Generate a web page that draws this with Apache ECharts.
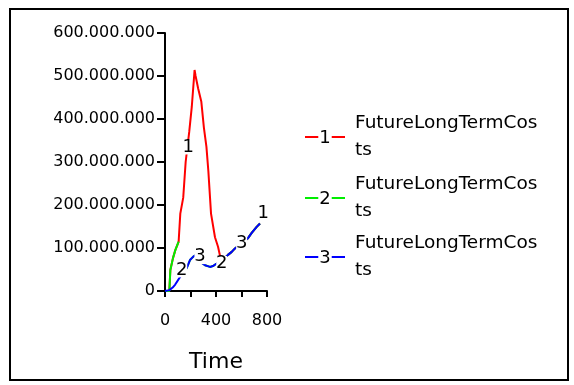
<!DOCTYPE html>
<html>
<head>
<meta charset="utf-8">
<script src="https://cdn.jsdelivr.net/npm/echarts@6/dist/echarts.min.js"></script>
<style>html,body{margin:0;padding:0;background:#fff}#c{width:574px;height:385px}</style>
</head>
<body>
<div id="c"></div>
<script>
// Time values and series values (in millions)
const redTime  = [0, 34, 42, 63, 81, 107, 120, 143, 162, 190, 210, 232, 240, 260, 285, 305, 325, 340, 361, 392, 416, 440, 494, 523, 549, 600, 651, 680, 719, 745];
const redVal   = [0, 0, 49, 77, 95, 115, 180, 217, 300, 370, 428, 514, 500, 471, 440, 380, 335, 279, 180, 125, 103, 70, 84, 91, 99, 111, 123, 135, 149, 157];
const greenTime = [0, 34, 42, 63, 81, 107, 118, 140, 170, 196, 222, 250, 274, 314, 353, 376, 405, 445, 494, 523, 549, 600, 651, 680, 719, 745];
const greenVal  = [0, 0, 49, 77, 95, 115, null, 40, 53, 72, 80, 85, 68, 60, 56, 58, 64, 70, 84, 91, 99, 111, 123, 135, 149, 157];
const blueTime = [0, 34, 60, 80, 130, 170, 196, 222, 250, 274, 314, 353, 376, 405, 445, 494, 523, 549, 600, 651, 680, 719, 745];
const blueVal  = [0, 2, 8, 15, 38, 53, 72, 80, 85, 68, 60, 56, 58, 64, 70, 84, 91, 99, 111, 123, 135, 149, 157];
// Run labels placed on the lines
const labelTime = [183, 771, 131, 445, 274, 601];
const labelVal  = [335, 180, 49, 64, 80, 111];
const labelText = ['1', '1', '2', '2', '3', '3'];
const seriesNames = ['FutureLongTermCosts', 'FutureLongTermCosts', 'FutureLongTermCosts'];
const seriesNums = ['1', '2', '3'];
const colors = ['#ff0000', '#00ee00', '#0000ff'];
const yTicks = [0, 100, 200, 300, 400, 500, 600];
const xTicks = [0, 400, 800];

const M = 1e6;
function pairs(t, v) { return t.map((x, i) => [x, v[i] == null ? null : v[i] * M]); }

const chart = echarts.init(document.getElementById('c'));
const font = 'DejaVu Sans';

const legendGraphics = [];
const legendY = [137, 198, 257];
seriesNums.forEach((n, i) => {
  legendGraphics.push({
    type: 'line', shape: {x1: 305, y1: legendY[i], x2: 345, y2: legendY[i]},
    style: {stroke: colors[i], lineWidth: 2}
  });
  legendGraphics.push({
    type: 'text', x: 325, y: legendY[i] + 1,
    style: {text: n, font: '18px ' + font, fill: '#000', align: 'center', verticalAlign: 'middle',
            backgroundColor: '#fff', padding: [0, 1]}
  });
  const nm = seriesNames[i];
  legendGraphics.push({
    type: 'text', x: 355, y: legendY[i],
    style: {text: nm.slice(0, 17) + '\n' + nm.slice(17), font: '18.5px ' + font, fill: '#000',
            align: 'left', verticalAlign: 'middle', lineHeight: 27}
  });
});

chart.setOption({
  animation: false,
  backgroundColor: '#fff',
  grid: {left: 165, top: 33, width: 102, height: 258, containLabel: false},
  xAxis: {
    type: 'value', min: 0, max: 800, interval: 200,
    name: 'Time', nameLocation: 'middle', nameGap: 60,
    nameTextStyle: {fontFamily: font, fontSize: 22, color: '#000'},
    axisLine: {onZero: false, lineStyle: {color: '#000', width: 2}},
    axisTick: {show: true, length: 6, lineStyle: {color: '#000', width: 2}},
    axisLabel: {margin: 22, fontFamily: font, fontSize: 16, color: '#000',
      formatter: v => xTicks.indexOf(v) >= 0 ? String(v) : ''},
    splitLine: {show: false}
  },
  yAxis: {
    type: 'value', min: 0, max: 600 * M, interval: 100 * M,
    axisLine: {show: true, lineStyle: {color: '#000', width: 2}},
    axisTick: {show: true, length: 8, lineStyle: {color: '#000', width: 2}},
    axisLabel: {margin: 10, fontFamily: font, fontSize: 16, color: '#000',
      formatter: v => {
        const m = Math.round(v / M);
        if (yTicks.indexOf(m) < 0) return '';
        if (m === 0) return '0';
        return m + '.000.000';
      }},
    splitLine: {show: false}
  },
  series: [
    {type: 'line', data: pairs(redTime, redVal), symbol: 'none', z: 2,
     lineStyle: {color: colors[0], width: 2}},
    {type: 'line', data: pairs(greenTime, greenVal), symbol: 'none', z: 3, connectNulls: false,
     lineStyle: {color: colors[1], width: 2}},
    {type: 'line', data: pairs(blueTime, blueVal), symbol: 'none', z: 4,
     lineStyle: {color: colors[2], width: 2}},
    {type: 'scatter', z: 10, symbol: 'rect', symbolSize: [11, 15],
     itemStyle: {color: '#fff', opacity: 1},
     emphasis: {disabled: true},
     data: labelTime.map((t, i) => [t, labelVal[i] * M, labelText[i]]),
     label: {show: true, position: 'inside', formatter: p => p.data[2],
       fontFamily: font, fontSize: 18, color: '#000', opacity: 1}}
  ],
  graphic: [
    {type: 'rect', shape: {x: 10, y: 9, width: 558, height: 371},
     style: {fill: null, stroke: '#000', lineWidth: 2}, z: 100},
    ...legendGraphics
  ]
});
</script>
</body>
</html>
